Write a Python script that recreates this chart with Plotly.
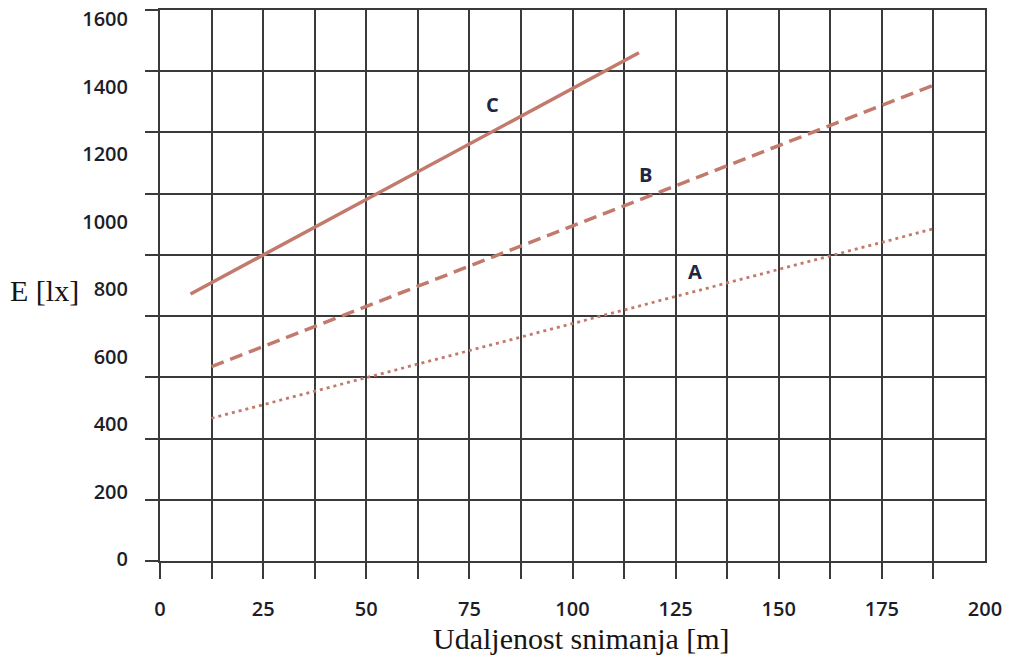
import plotly.graph_objects as go

# ---- data ----
series_names = ["A", "B", "C"]
x_A = [12.5, 188.0]
y_A = [417, 980]
x_B = [12.5, 188.0]
y_B = [570, 1406]
x_C = [7.4, 116.1]
y_C = [785, 1500]

label_x = [129.7, 117.8, 80.7]
label_y = [851, 1139, 1348]

x_tick_vals = [0, 25, 50, 75, 100, 125, 150, 175, 200]
x_tick_text = ["0", "25", "50", "75", "100", "125", "150", "175", "200"]
x_grid_vals = [0, 12.5, 25, 37.5, 50, 62.5, 75, 87.5, 100, 112.5, 125, 137.5,
               150, 162.5, 175, 187.5]
y_tick_vals = [0, 200, 400, 600, 800, 1000, 1200, 1400, 1600]
y_tick_text = ["0", "200", "400", "600", "800", "1000", "1200", "1400", "1600"]

x_title = "Udaljenost snimanja [m]"
y_title = "E [lx]"

# ---- style ----
line_col = "#c27a6c"
grid_col = "#3a3a3a"
tick_font = dict(family="Open Sans", size=20, color="#1d1d2a", weight=600)

W, H = 1009, 659
# target pixel layout: plot area x 160..985, y 10..561
L = 160
T = 10
R = W - 985
B = H - 561

fig = go.Figure()
fig.add_trace(go.Scatter(x=x_A, y=y_A, mode="lines", name="A",
                         line=dict(color=line_col, width=2.8, dash="3px,4px")))
fig.add_trace(go.Scatter(x=x_B, y=y_B, mode="lines", name="B",
                         line=dict(color=line_col, width=3.5, dash="13px,7px")))
fig.add_trace(go.Scatter(x=x_C, y=y_C, mode="lines", name="C",
                         line=dict(color=line_col, width=3.5)))
# invisible trace to activate yaxis2 (grid)
fig.add_trace(go.Scatter(x=[None], y=[None], yaxis="y2", showlegend=False,
                         hoverinfo="skip"))

for name, lx, ly in zip(series_names, label_x, label_y):
    fig.add_annotation(x=lx, y=ly, text=name, showarrow=False,
                       font=dict(family="Open Sans", size=20, color="#1f2640",
                                 weight=700))

# value scale: 0 at pixel 559, 1600 at pixel 19 (plot area 10..561)
ppu = (559 - 19) / 1600.0
y_lo = -(561 - 559) / ppu
y_hi = 1600 + (19 - 10) / ppu

fig.update_layout(
    width=W, height=H,
    margin=dict(l=L, r=R, t=T, b=B, autoexpand=False),
    paper_bgcolor="white", plot_bgcolor="white",
    showlegend=False,
    xaxis=dict(
        range=[0, 200], tickvals=x_tick_vals, ticktext=x_tick_text,
        ticks="", showgrid=False, zeroline=False, automargin=False,
        showline=True, mirror=True, linecolor=grid_col, linewidth=2,
        tickfont=tick_font, ticklabelstandoff=29, ticklabeloverflow="allow",
        minor=dict(tickvals=x_grid_vals, showgrid=True, gridcolor=grid_col,
                   gridwidth=2, ticks="outside", ticklen=16,
                   tickcolor=grid_col, tickwidth=2),
    ),
    yaxis=dict(
        range=[y_lo, y_hi], tickvals=y_tick_vals, ticktext=y_tick_text,
        ticks="", showgrid=False, zeroline=False, automargin=False,
        showline=True, mirror=True, linecolor=grid_col, linewidth=2,
        tickfont=tick_font, ticklabelstandoff=26, ticklabeloverflow="allow",
    ),
    yaxis2=dict(
        overlaying="y", range=[0, 9], dtick=1, showticklabels=False,
        showgrid=True, gridcolor=grid_col, gridwidth=2, zeroline=False,
        automargin=False,
        ticks="outside", ticklen=14, tickcolor=grid_col, tickwidth=2,
        side="left",
    ),
)

PW = W - L - R
PH = H - T - B
fig.add_annotation(xref="paper", yref="paper", x=(581.5 - 160) / PW,
                   y=-(638 - 561) / PH, text=x_title,
                   showarrow=False, xanchor="center", yanchor="middle",
                   font=dict(family="Liberation Serif", size=30, color="#151515"))
fig.add_annotation(xref="paper", yref="paper", x=-(160 - 44) / PW,
                   y=(561 - 290) / PH, text=y_title,
                   showarrow=False, xanchor="center", yanchor="middle",
                   font=dict(family="Liberation Serif", size=30, color="#151515"))

fig.write_html("out.html",
               config={"displayModeBar": False},
               post_script="document.body.style.margin='0px';")
